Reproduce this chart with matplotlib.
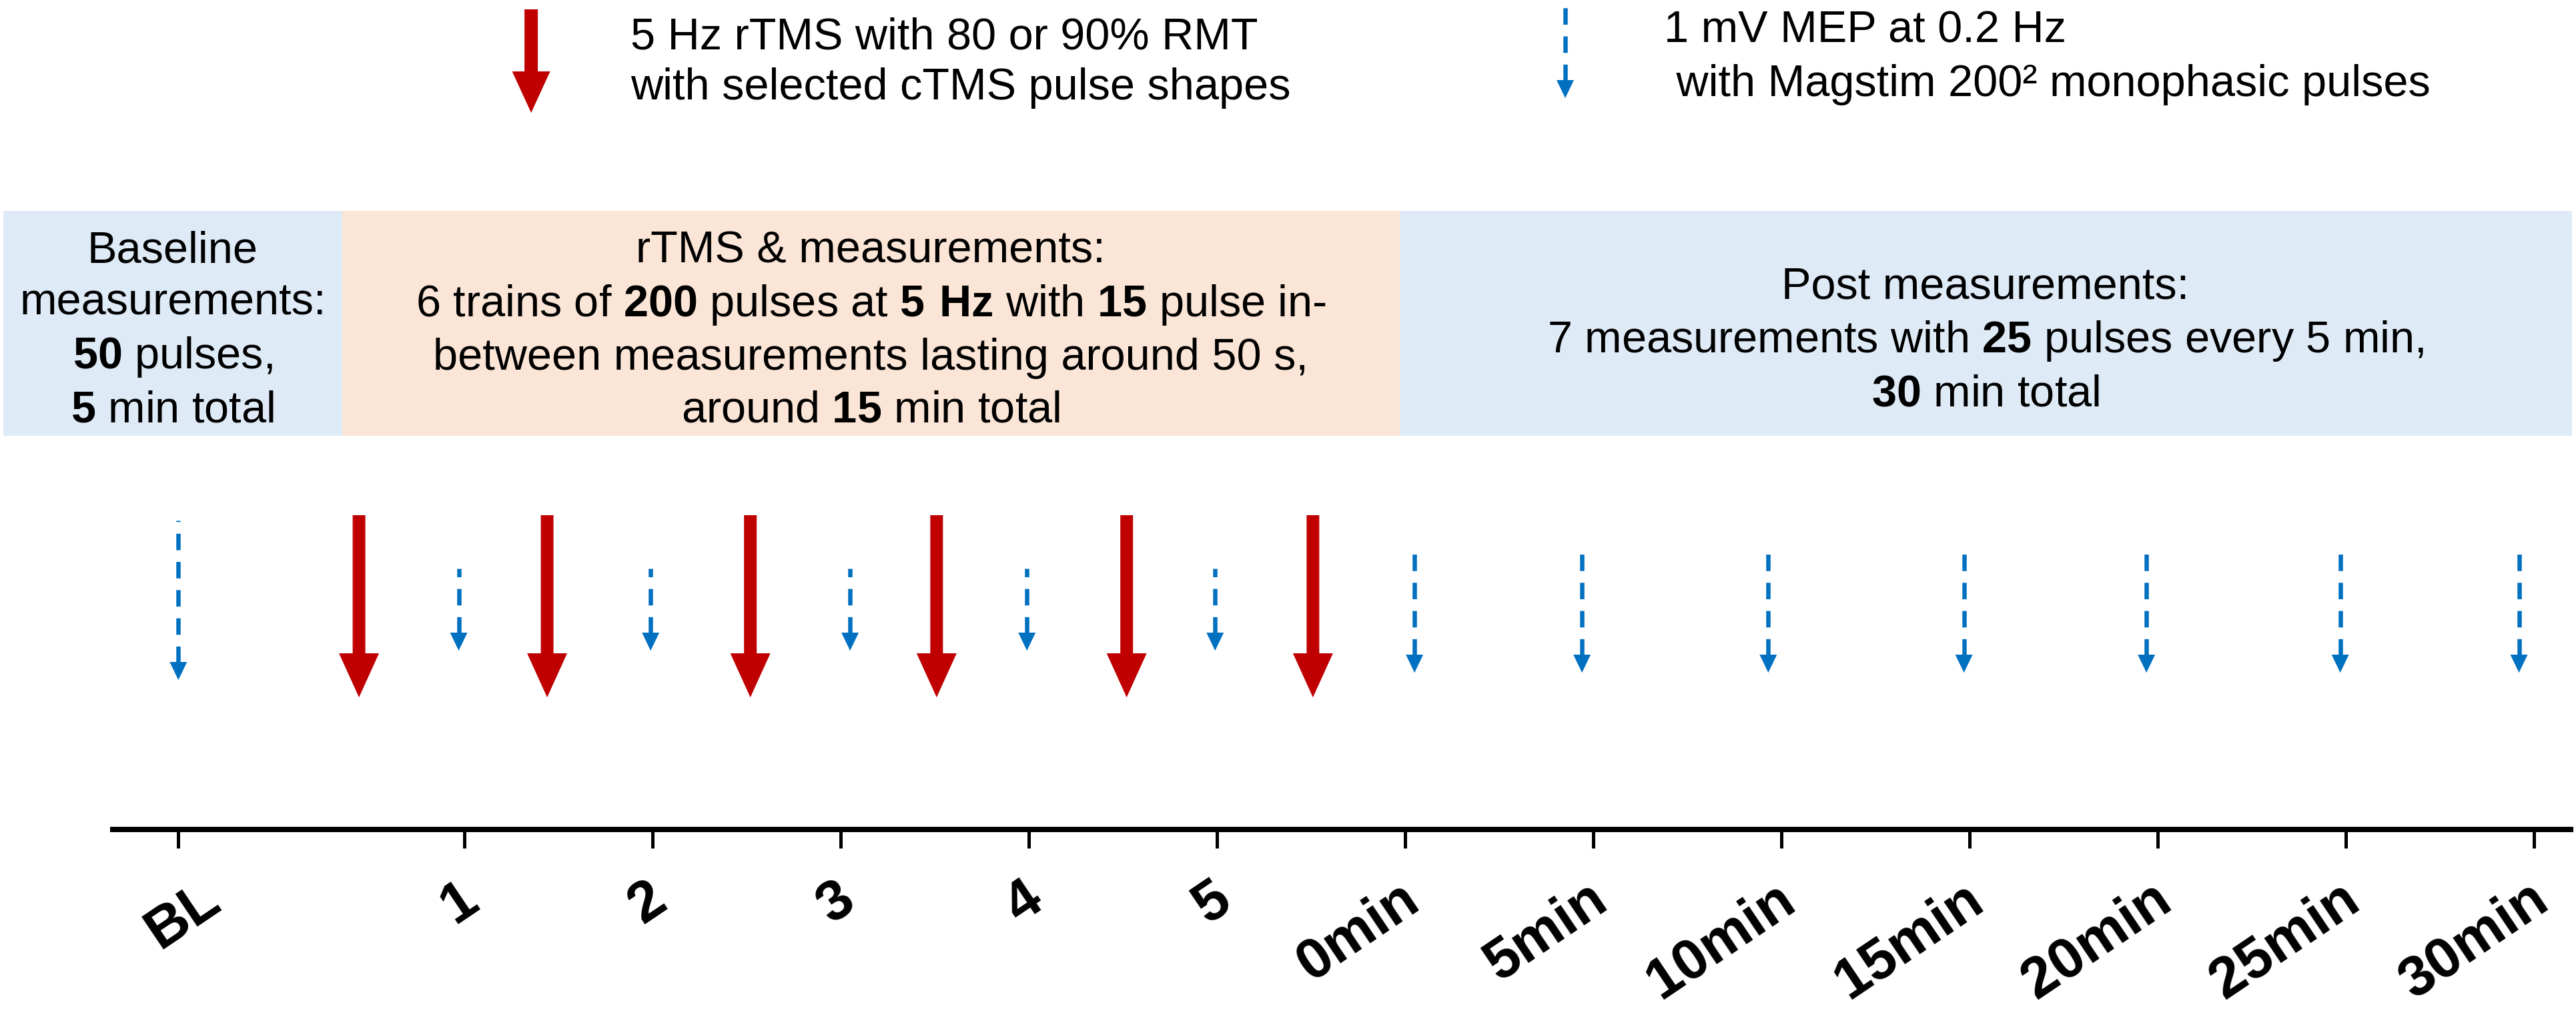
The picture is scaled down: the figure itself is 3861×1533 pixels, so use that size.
import matplotlib
matplotlib.use("Agg")
import matplotlib.pyplot as plt
from matplotlib.transforms import ScaledTranslation

# timeline positions (tick units: 1..5 between trains, 6..12 = 0..30 min post)
tick_pos = [-0.52, 1, 2, 3, 4, 5, 6, 7, 8, 9, 10, 11, 12]
tick_labels = ["BL", "1", "2", "3", "4", "5",
               "0min", "5min", "10min", "15min", "20min", "25min", "30min"]

rtms_trains = [0.44, 1.44, 2.52, 3.51, 4.52, 5.51]          # red arrows
mep_baseline = [-0.52]                                        # blue, baseline block
mep_between = [0.97, 1.99, 3.05, 3.99, 4.99]                  # blue, between trains
mep_post = [6.05, 6.94, 7.93, 8.97, 9.94, 10.97, 11.92]      # blue, post block

phase_edges = [-1.45, 0.35, 5.97, 12.2]
phase_texts = [
    "Baseline\nmeasurements:\n$\\mathbf{50}$ pulses,\n$\\mathbf{5}$ min total",
    "rTMS & measurements:\n"
    "6 trains of $\\mathbf{200}$ pulses at $\\mathbf{5\\ Hz}$ with $\\mathbf{15}$ pulse in-\n"
    "between measurements lasting around 50 s,\n"
    "around $\\mathbf{15}$ min total",
    "Post measurements:\n"
    "7 measurements with $\\mathbf{25}$ pulses every 5 min,\n"
    "$\\mathbf{30}$ min total",
]

RED = "#C00000"
BLUE = "#0070C0"
PHASE_COLORS = ["#DEEBF7", "#FBE5D6", "#DEEBF7"]
TEXT_Y = [747, 747, 732]  # vertical centre of each box's text (px above axis)

plt.rcParams["font.family"] = "Liberation Sans"
plt.rcParams["mathtext.fontset"] = "custom"
plt.rcParams["mathtext.rm"] = "Liberation Sans"
plt.rcParams["mathtext.bf"] = "Liberation Sans:bold"

PX = 0.72  # points per pixel at dpi 100
UNIT = 282.0  # pixels per timeline unit


def red_arrow(ax, x, top, tip, shaft=19, hw=60, hl=66):
    ax.arrow(x, top, 0, tip - top, width=shaft / UNIT, head_width=hw / UNIT,
             head_length=hl, length_includes_head=True, color=RED, lw=0,
             clip_on=False)


def blue_arrow(ax, x, top, tip, hw=26, hl=27):
    ax.plot([x, x], [tip + hl - 1, top], color=BLUE, lw=6.5 * PX,
            linestyle=(0, (3.8, 2.7)), solid_capstyle="butt",
            dash_capstyle="butt", clip_on=False)
    ax.arrow(x, tip + hl, 0, -hl, width=0, head_width=hw / UNIT,
             head_length=hl, length_includes_head=True, color=BLUE, lw=0,
             clip_on=False)


fig = plt.figure(figsize=(38.61, 15.33), dpi=100)
# y data = pixels above the time axis line
ax = fig.add_axes([0, 290 / 1533, 1, 1243 / 1533])
ax.set_xlim(-1.468, 12.223)
ax.set_ylim(0, 1243)

for s in ("top", "left", "right"):
    ax.spines[s].set_visible(False)
ax.spines["bottom"].set_linewidth(8 * PX)
ax.spines["bottom"].set_bounds(-0.869, 12.195)
ax.set_yticks([])
ax.set_xticks(tick_pos)
ax.set_xticklabels(tick_labels, fontsize=62, fontweight="bold", rotation=34,
                   ha="right", va="center", rotation_mode="anchor")
ax.tick_params(axis="x", length=20, width=5 * PX, pad=50, direction="out")
for i, t in enumerate(ax.xaxis.get_major_ticks()):
    dx = 55 if i == 0 else 13
    t.label1.set_transform(t.label1.get_transform()
                           + ScaledTranslation(dx / 100, 0, fig.dpi_scale_trans))

# phase boxes
for (x0, x1), txt, col, ty in zip(zip(phase_edges[:-1], phase_edges[1:]),
                                  phase_texts, PHASE_COLORS, TEXT_Y):
    ax.fill_between([x0, x1], 590, 927, color=col, lw=0, zorder=0)
    ax.text((x0 + x1) / 2, ty, txt, ha="center", va="center",
            multialignment="center", fontsize=48, linespacing=1.33)

# event arrows
for x in rtms_trains:
    red_arrow(ax, x, 471, 198)
for x in mep_baseline:
    blue_arrow(ax, x, 463, 224)
for x in mep_between:
    blue_arrow(ax, x, 391, 268)
for x in mep_post:
    blue_arrow(ax, x, 429, 235)

# legend
red_arrow(ax, 1.355, 1229, 1074, shaft=20, hw=57, hl=62)
ax.text(1.883, 1170, "5 Hz rTMS with 80 or 90% RMT", fontsize=48, va="baseline")
ax.text(1.883, 1094, "with selected cTMS pulse shapes", fontsize=48, va="baseline")
blue_arrow(ax, 6.851, 1243, 1096)
ax.text(7.376, 1180, "1 mV MEP at 0.2 Hz", fontsize=48, va="baseline")
ax.text(7.376, 1099, " with Magstim 200\u00b2 monophasic pulses", fontsize=48,
        va="baseline")

fig.savefig("out.png", dpi=100, facecolor="white")
